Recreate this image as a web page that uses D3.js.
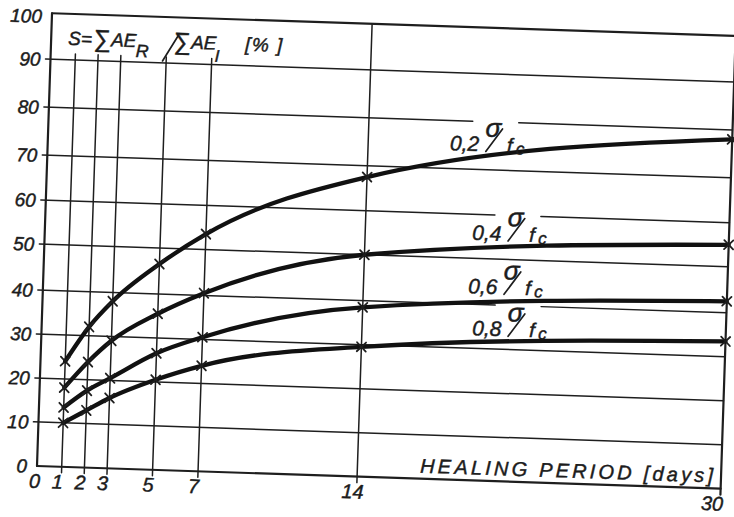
<!DOCTYPE html>
<html>
<head>
<meta charset="utf-8">
<script src="https://cdn.jsdelivr.net/npm/d3@7"></script>
<style>
  html, body { margin: 0; padding: 0; background: #fff; }
  svg { display: block; }
  text {
    font-family: "Liberation Sans", Arial, sans-serif; font-style: italic;
    fill: #1c1c1c; stroke: #1c1c1c; stroke-width: 0.45px; paint-order: stroke;
  }
</style>
</head>
<body>
<svg id="chart" width="734" height="517"></svg>
<script>
// Healing period [days] at which S was measured
const days = [1, 2, 3, 5, 7, 14, 30];
// Stress ratio sigma/fc of each curve
const ratios = ["0,2", "0,4", "0,6", "0,8"];
// S = sum AE_R / sum AE_I [%] for each stress ratio
const s02 = [24, 32, 38, 46.5, 53.5, 67.5, 78];
const s04 = [18, 24, 29, 35.5, 40.5, 50, 55];
const s06 = [13.5, 17.5, 20.5, 26.5, 30.5, 38.5, 42.5];
const s08 = [10, 13, 16, 20.5, 24, 29.5, 33.5];
// Axis ticks
const xTicks = [0, 1, 2, 3, 5, 7, 14, 30];
const yTicks = [0, 10, 20, 30, 40, 50, 60, 70, 80, 90, 100];

const series = [s02, s04, s06, s08].map((vals, i) => ({
  name: ratios[i],
  points: days.map((d, j) => ({ d, v: vals[j] }))
}));

// ---- layout ----
const origin = [37, 466];   // lower-left corner of the sheet
const tilt = 1.9;           // the drawing sits slightly turned on the page
const ink = "#1e1e1e";

const x = d3.scaleLinear().domain([0, 30]).range([2, 684]);
// the hand-ruled grid is not perfectly even, so the S axis follows its rulings
const y = d3.scaleLinear().domain(yTicks)
  .range([0, -44, -88, -132, -176, -222, -266, -311, -359, -407, -453]);

// curve label anchors: [day, S] of the start of the ratio text, and the grid line its sigma breaks
const labelAt = {
  "0,2": { d: 17.6,  v: 73.8,  cut: 80 },
  "0,4": { d: 18.71, v: 54.2,  cut: 60 },
  "0,6": { d: 18.61, v: 42.4,  cut: null },
  "0,8": { d: 18.85, v: 33.0,  cut: 40 }
};

const svg = d3.select("#chart");
const g = svg.append("g")
  .attr("transform", `translate(${origin[0]},${origin[1]}) rotate(${tilt})`);

const seg = (sel, x1, y1, x2, y2, w) => sel.append("line")
  .attr("x1", x1).attr("y1", y1).attr("x2", x2).attr("y2", y2)
  .attr("stroke", ink).attr("stroke-width", w).attr("stroke-linecap", "round");

// ---- grid ----
const grid = g.append("g");
yTicks.filter(v => v > 0 && v < 100).forEach(v => {
  const gaps = Object.values(labelAt).filter(l => l.cut === v)
    .map(l => [x(l.d) + 22, x(l.d) + 68]);
  let start = -5;
  gaps.forEach(([a, b]) => { seg(grid, start, y(v), a, y(v), 1.5); start = b; });
  seg(grid, start, y(v), x(30), y(v), 1.5);
});
xTicks.filter(d => d > 0 && d < 30).forEach(d => {
  const top = d === 14 ? y(100) : y(90) - 6;
  seg(grid, x(d), 6, x(d), top, 1.5);
});

// ---- frame ----
const frame = g.append("g");
seg(frame, 0, 0, x(30), 0, 2.2);            // x axis
seg(frame, 0, 0, 0, y(100), 2.2);           // y axis
seg(frame, 0, y(100), x(30) + 20, y(100), 2.2);
seg(frame, x(30), 6, x(30), y(100) - 20, 2.2);

// ---- tick labels ----
g.append("g").selectAll("text").data(yTicks).join("text")
  .attr("x", -10)
  .attr("y", v => y(v) + (v === 100 ? 10 : 7))
  .attr("text-anchor", "end")
  .attr("font-size", 19)
  .text(v => v);

g.append("g").selectAll("text").data(xTicks).join("text")
  .attr("x", d => d === 30 ? x(d) + 3 : x(d) - 4)
  .attr("y", 22)
  .attr("text-anchor", d => d === 30 ? "end" : "middle")
  .attr("font-size", 20)
  .text(d => d);

// ---- axis titles ----
g.append("text")
  .attr("x", x(30) - 8 - 293).attr("y", -6)
  .attr("font-size", 20)
  .attr("textLength", 293).attr("lengthAdjust", "spacing")
  .text("HEALING PERIOD [days]");

const title = g.append("g").attr("transform", `translate(${x(0) + 15},${y(100) + 31})`);
const tt = (s, tx, ty, fs) => title.append("text").attr("x", tx).attr("y", ty).attr("font-size", fs).text(s);
tt("S=", 0, 0, 19);
tt("\u2211", 25, 1, 24);
tt("AE", 43, 0, 19);
tt("R", 68, 10, 18);
seg(title, 95, 13, 110, -13, 1.7);
tt("\u2211", 105, 1, 24);
tt("AE", 123, 0, 19);
tt("I", 147, 12, 17);
tt("[% ]", 177, 0, 19).attr("letter-spacing", 1.5);

// ---- curves ----
const line = d3.line().x(p => x(p.d)).y(p => y(p.v)).curve(d3.curveMonotoneX);
const curves = g.append("g");
curves.selectAll("path").data(series).join("path")
  .attr("d", s => line(s.points))
  .attr("fill", "none").attr("stroke", "#111")
  .attr("stroke-width", 4.3).attr("stroke-linecap", "round").attr("stroke-linejoin", "round");

// cross markers at the measured days
const m = 4.5;
series.forEach(s => s.points.forEach(p => {
  const cx = x(p.d), cy = y(p.v);
  seg(curves, cx - m, cy - m, cx + m, cy + m, 1.8);
  seg(curves, cx - m, cy + m, cx + m, cy - m, 1.8);
}));

// ---- curve labels: 0,x sigma/fc ----
series.forEach(s => {
  const a = labelAt[s.name];
  const lg = g.append("g").attr("transform", `translate(${x(a.d)},${y(a.v)})`);
  lg.append("text").attr("x", 0).attr("y", 0).attr("font-size", 21).text(s.name);
  lg.append("text").attr("x", 35).attr("y", -15).attr("font-size", 26).text("\u03c3");
  seg(lg, 36, 0, 52, -23, 1.7);
  lg.append("text").attr("x", 57).attr("y", 0).attr("font-size", 20).text("f");
  lg.append("text").attr("x", 66).attr("y", 2).attr("font-size", 17).text("c");
});
</script>
</body>
</html>
